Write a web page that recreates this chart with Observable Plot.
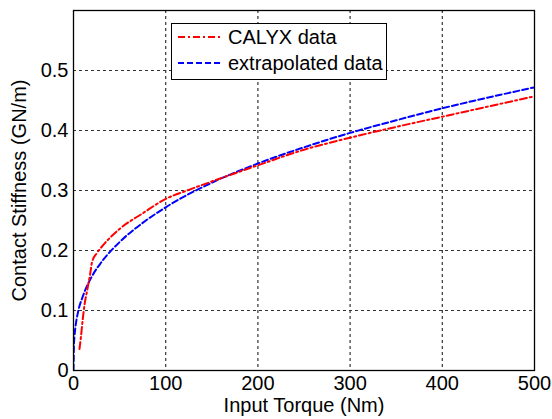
<!DOCTYPE html>
<html>
<head>
<meta charset="utf-8">
<script src="https://cdn.jsdelivr.net/npm/d3@7"></script>
<script src="https://cdn.jsdelivr.net/npm/@observablehq/plot@0.6"></script>
<style>
  html, body { margin: 0; padding: 0; background: #fff; }
  #wrap { position: relative; width: 552px; height: 419px; font-family: "Liberation Sans", Arial, sans-serif; }
  #legend { position: absolute; left: 171px; top: 23px; width: 214px; height: 55px; background: #fff; border: 1px solid #000; }
  #legend .row { position: absolute; left: 6px; height: 20px; display: flex; align-items: center; font-size: 20px; color: #000; }
  #legend svg { margin-right: 6px; }
</style>
</head>
<body>
<div id="wrap"></div>
<script>
// CALYX data (red dash-dot)
const calyxTorque = [6.5, 8, 10, 12, 15, 18, 20, 25, 30, 40, 50, 75, 100, 125, 150, 200, 250, 300, 350, 400, 450, 500];
const calyxStiff  = [0.036, 0.055, 0.085, 0.11, 0.135, 0.16, 0.18, 0.195, 0.205, 0.222, 0.236, 0.262, 0.286, 0.301, 0.315, 0.342, 0.368, 0.388, 0.406, 0.423, 0.44, 0.457];
// extrapolated data (blue dashed)
const extraTorque = [0, 0.5, 1, 2, 5, 10, 20, 30, 50, 75, 100, 150, 200, 250, 300, 350, 400, 450, 500];
const extraStiff  = [0, 0.044, 0.056, 0.071, 0.098, 0.123, 0.157, 0.180, 0.214, 0.246, 0.272, 0.313, 0.345, 0.372, 0.396, 0.417, 0.437, 0.455, 0.472];
const xTicks = [0, 100, 200, 300, 400, 500];
const yTicks = [0, 0.1, 0.2, 0.3, 0.4, 0.5];
const yTickLabels = ["0", "0.1", "0.2", "0.3", "0.4", "0.5"];
const seriesNames = ["CALYX data", "extrapolated data"];
const seriesColors = ["#ff0000", "#0000ff"];
const seriesDash = ["7,3,2,3", "6,3"];

const calyx = calyxTorque.map((t, i) => ({torque: t, stiff: calyxStiff[i]}));
const extra = extraTorque.map((t, i) => ({torque: t, stiff: extraStiff[i]}));

const chart = Plot.plot({
  width: 552,
  height: 419,
  marginLeft: 73,
  marginRight: 18,
  marginTop: 10,
  marginBottom: 49,
  style: {fontFamily: "'Liberation Sans', Arial, sans-serif", fontSize: "20px", color: "#000", background: "#fff"},
  x: {domain: [0, 500]},
  y: {domain: [0, 0.6]},
  marks: [
    Plot.gridX([100, 200, 300, 400], {stroke: "#333", strokeOpacity: 1, strokeWidth: 1.2, strokeDasharray: "3,3"}),
    Plot.gridY([0.1, 0.2, 0.3, 0.4, 0.5], {stroke: "#333", strokeOpacity: 1, strokeWidth: 1.2, strokeDasharray: "3,3"}),
    Plot.line(extra, {x: "torque", y: "stiff", stroke: seriesColors[1], strokeWidth: 2, strokeDasharray: seriesDash[1], curve: "monotone-x", clip: true}),
    Plot.line(calyx, {x: "torque", y: "stiff", stroke: seriesColors[0], strokeWidth: 2, strokeDasharray: seriesDash[0], curve: "monotone-x", clip: true}),
    Plot.frame({stroke: "#000", strokeWidth: 1.3}),
    Plot.axisX(xTicks, {tickSize: 0, tickPadding: 5, fontSize: 20, label: "Input Torque (Nm)", labelAnchor: "center", labelArrow: "none", labelOffset: 41}),
    Plot.axisY(yTicks, {tickSize: 0, tickPadding: 5, fontSize: 20, tickFormat: (d, i) => yTickLabels[i], label: "Contact Stiffness (GN/m)", labelAnchor: "center", labelArrow: "none", labelOffset: 62})
  ]
});

const wrap = document.getElementById("wrap");
wrap.appendChild(chart);

const legend = document.createElement("div");
legend.id = "legend";
seriesNames.forEach((name, i) => {
  const row = document.createElement("div");
  row.className = "row";
  row.style.top = (i === 0 ? 3 : 29) + "px";
  row.innerHTML = `<svg width="44" height="6"><line x1="0" y1="3" x2="44" y2="3" stroke="${seriesColors[i]}" stroke-width="2" stroke-dasharray="${seriesDash[i]}"/></svg><span>${name}</span>`;
  legend.appendChild(row);
});
wrap.appendChild(legend);
</script>
</body>
</html>
